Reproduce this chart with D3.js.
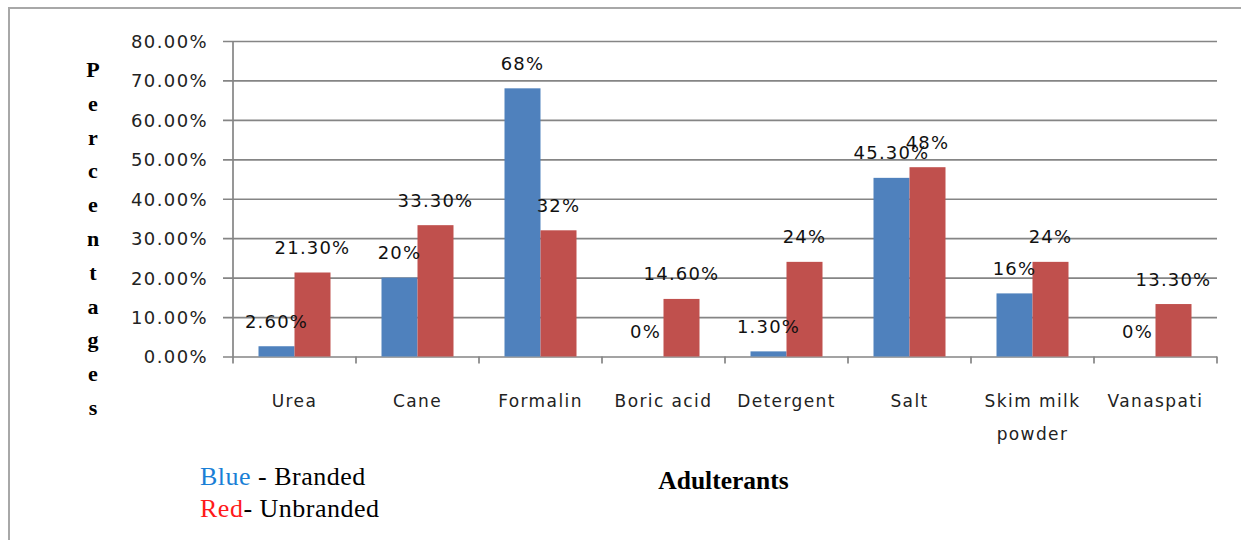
<!DOCTYPE html>
<html>
<head>
<meta charset="utf-8">
<script src="https://cdn.jsdelivr.net/npm/d3@7"></script>
<style>
  html, body { margin: 0; padding: 0; background: #fff; }
  svg { display: block; }
</style>
</head>
<body>
<svg id="chart" width="1241" height="540"></svg>
<script>
// Adulterants found in branded vs unbranded milk samples (percent of samples)
const categories = ["Urea", "Cane", "Formalin", "Boric acid", "Detergent", "Salt", "Skim milk powder", "Vanaspati"];
const categoryLines = [["Urea"], ["Cane"], ["Formalin"], ["Boric acid"], ["Detergent"], ["Salt"], ["Skim milk", "powder"], ["Vanaspati"]];
const branded   = [2.6, 20, 68, 0, 1.3, 45.3, 16, 0];
const unbranded = [21.3, 33.3, 32, 14.6, 24, 48, 24, 13.3];
const brandedLabels   = ["2.60%", "20%", "68%", "0%", "1.30%", "45.30%", "16%", "0%"];
const unbrandedLabels = ["21.30%", "33.30%", "32%", "14.60%", "24%", "48%", "24%", "13.30%"];
const yTicks = [0, 10, 20, 30, 40, 50, 60, 70, 80];
const seriesNames = ["Branded", "Unbranded"];
const seriesColors = ["#4F81BD", "#C0504D"];

const svg = d3.select("#chart");

// Outer frame
svg.append("rect")
  .attr("x", 9).attr("y", 8)
  .attr("width", 1260).attr("height", 560)
  .attr("fill", "none").attr("stroke", "#a8a8a8").attr("stroke-width", 2);

const plot = { left: 233, right: 1217, top: 41, bottom: 356.5 };

const x = d3.scaleBand().domain(categories).range([plot.left, plot.right]).paddingInner(0).paddingOuter(0);
const y = d3.scaleLinear().domain([0, 80]).range([plot.bottom, plot.top]);
const xs = d3.scaleBand().domain(seriesNames).range([25.5, x.bandwidth() - 25.5]);

const tickFont = "'DejaVu Sans', sans-serif";

// Horizontal gridlines + y axis
const yAxis = d3.axisLeft(y).tickValues(yTicks)
  .tickSize(-(plot.right - plot.left))
  .tickFormat(d => d.toFixed(2) + "%");
const gy = svg.append("g").attr("transform", `translate(${plot.left},0)`).call(yAxis);
gy.select(".domain").remove();
gy.selectAll(".tick line")
  .attr("x1", -10)
  .attr("stroke", "#858585").attr("stroke-width", 1.7);
gy.selectAll(".tick text")
  .attr("x", -25).attr("dy", "0.36em")
  .attr("fill", "#222")
  .style("font-family", tickFont).style("font-size", "18px").style("letter-spacing", "1.4px");

// Vertical axis line
svg.append("line")
  .attr("x1", plot.left).attr("x2", plot.left)
  .attr("y1", plot.top).attr("y2", plot.bottom + 7)
  .attr("stroke", "#858585").attr("stroke-width", 1.7);

// Category tick marks on the x axis
const boundaries = categories.map(c => x(c)).slice(1).concat([plot.right]);
svg.append("g").selectAll("line").data(boundaries).join("line")
  .attr("x1", d => d).attr("x2", d => d)
  .attr("y1", plot.bottom).attr("y2", plot.bottom + 7)
  .attr("stroke", "#858585").attr("stroke-width", 1.7);

// Bars
const rows = categories.map((c, i) => ({
  cat: c,
  vals: [
    { s: seriesNames[0], v: branded[i], label: brandedLabels[i], color: seriesColors[0] },
    { s: seriesNames[1], v: unbranded[i], label: unbrandedLabels[i], color: seriesColors[1] }
  ]
}));

const groups = svg.append("g").selectAll("g").data(rows).join("g")
  .attr("transform", d => `translate(${x(d.cat)},0)`);

groups.selectAll("rect").data(d => d.vals).join("rect")
  .attr("x", d => xs(d.s))
  .attr("width", xs.bandwidth())
  .attr("y", d => y(d.v))
  .attr("height", d => y(0) - y(d.v))
  .attr("fill", d => d.color);

// Value labels
groups.selectAll("text").data(d => d.vals).join("text")
  .attr("x", d => xs(d.s) + xs.bandwidth() / 2)
  .attr("y", d => y(d.v) - 18.5)
  .attr("text-anchor", "middle")
  .attr("fill", "#111")
  .style("font-family", tickFont).style("font-size", "18px").style("letter-spacing", "1.2px")
  .text(d => d.label);

// Category labels
const catText = svg.append("g").selectAll("text").data(categories).join("text")
  .attr("x", d => x(d) + x.bandwidth() / 2)
  .attr("y", 407)
  .attr("text-anchor", "middle")
  .attr("fill", "#222")
  .style("font-family", tickFont).style("font-size", "17px").style("letter-spacing", "1.4px");
catText.selectAll("tspan").data((d, i) => categoryLines[i]).join("tspan")
  .attr("x", function () { return d3.select(this.parentNode).attr("x"); })
  .attr("dy", (d, j) => j === 0 ? 0 : 33)
  .text(d => d);

// Vertical stacked y-axis title
const yTitle = "Percentages".split("");
svg.append("g").selectAll("text").data(yTitle).join("text")
  .attr("x", 93)
  .attr("y", (d, i) => 77 + i * 33.8)
  .attr("text-anchor", "middle")
  .attr("fill", "#000")
  .style("font-family", "'Liberation Serif', 'Times New Roman', serif")
  .style("font-weight", "bold").style("font-size", "22px")
  .text(d => d);

// X-axis title
svg.append("text")
  .attr("x", 723.5).attr("y", 489)
  .attr("text-anchor", "middle")
  .attr("fill", "#000")
  .style("font-family", "'Liberation Serif', 'Times New Roman', serif")
  .style("font-weight", "bold").style("font-size", "25.5px")
  .text("Adulterants");

// Colour key
const key = [
  { word: "Blue", color: "#1a7fd6", rest: " - Branded" },
  { word: "Red", color: "#ff1a1a", rest: "- Unbranded" }
];
svg.append("g").selectAll("text").data(key).join("text")
  .attr("x", 200)
  .attr("y", (d, i) => 485 + i * 32)
  .style("font-family", "'Liberation Serif', 'Times New Roman', serif")
  .style("font-size", "26px").style("letter-spacing", "0.5px")
  .each(function (d) {
    const t = d3.select(this);
    t.append("tspan").attr("fill", d.color).text(d.word);
    t.append("tspan").attr("fill", "#000").text(d.rest);
  });
</script>
</body>
</html>
